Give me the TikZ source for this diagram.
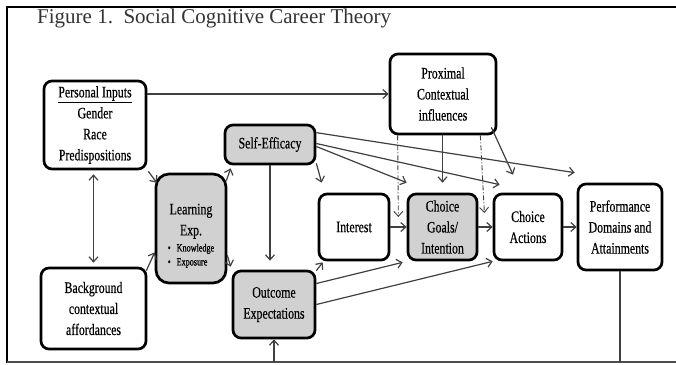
\documentclass[tikz,border=0pt]{standalone}
\usepackage{fontspec}
\setmainfont{Liberation Serif}
\newfontfamily\boxfont[FakeStretch=0.74,FakeBold=0.4]{Liberation Serif}
\newfontfamily\bulfont[FakeStretch=0.74,FakeBold=0.9]{Liberation Serif}
\usetikzlibrary{arrows.meta,calc}
\begin{document}
\begin{tikzpicture}[x=1pt,y=-1pt,
  box/.style={draw=black, line width=2.7pt, rounded corners=8pt, align=center, inner sep=0pt,
    font=\boxfont\fontsize{16}{21}\selectfont, text=black},
  gbox/.style={box, fill=black!18},
  arr/.style={draw=black!75, line width=1.2pt, -{Straight Barb[length=5pt,width=9pt]}},
  arrtwo/.style={draw=black!75, line width=1.2pt, {Straight Barb[length=5pt,width=9pt]}-{Straight Barb[length=5pt,width=9pt]}},
  dd/.style={arr, line width=0.9pt, dash pattern=on 5pt off 2pt on 1pt off 2pt},
  plain/.style={draw=black!75, line width=1.2pt},
  frame/.style={draw=black, line width=2pt}]
\useasboundingbox (0,0) rectangle (676,364);
\fill[white] (0,0) rectangle (676,364);
% frame
\draw[frame] (676,7) -- (7,7) -- (7,363);
\draw[draw=black!70, line width=1.5pt] (7,362) -- (676,362);
% title
\node[anchor=base west, inner sep=0pt, font=\fontsize{21}{24}\selectfont, text=black!80] (title) at (37,23) {Figure 1.\ \ Social Cognitive Career Theory};
% boxes
\node[box, minimum width=102, minimum height=88] (PI) at (95,125)
  {\underline{Personal Inputs}\\Gender\\Race\\Predispositions};
\node[box, minimum width=105, minimum height=81] (BG) at (93.5,308.5)
  {Background\\contextual\\affordances};
\node[gbox, rounded corners=13pt, minimum width=70, minimum height=109] (LE) at (191,228.5)
  {\rule{0pt}{27pt}Learning\\Exp.\\[2pt]{\bulfont\fontsize{11}{14}\selectfont\begin{tabular}{@{}l@{}}\textbullet\hspace{6pt}Knowledge\\\textbullet\hspace{6pt}Exposure\end{tabular}}};
\node[gbox, minimum width=90, minimum height=39] (SE) at (270,144.5) {Self-Efficacy};
\node[gbox, minimum width=82, minimum height=67] (OE) at (274,304.5) {Outcome\\Expectations};
\node[box, minimum width=70, minimum height=66] (IN) at (354,227) {Interest};
\node[gbox, minimum width=69, minimum height=66] (CG) at (442.5,227) {Choice\\Goals/\\Intention};
\node[box, minimum width=68, minimum height=66] (CA) at (528,227) {Choice\\Actions};
\node[box, minimum width=84, minimum height=86] (PD) at (620,227) {Performance\\Domains and\\Attainments};
\node[box, minimum width=106, minimum height=80] (PC) at (443,94) {Proximal\\Contextual\\influences};
% free ends
\coordinate (bot1) at (274,362);
\coordinate (bot2) at (620,362);
\coordinate (dd1) at ($(IN.east)+(8,-10)$);
\coordinate (dd2) at ($(CG.east)+(6,-14)$);
% connectors
\draw[arr] (PI.east |- PC.west) -- (PC.west);
\draw[arrtwo, shorten <=4pt, shorten >=4pt] (PI.south -| BG.north) -- (BG.north);
\draw[arr] ($(PI.south east)+(1,1)$) -- ($(LE.north west)+(2,10)$);
\draw[arr] ($(BG.north east)+(-1,4)$) -- ($(LE.south west)+(0,-32)$);
\draw[arr] ($(LE.north east)+(-1,8)$) -- ($(SE.south west)+(7,3)$);
\draw[arr] ($(LE.south east)+(0,-29)$) -- ($(OE.north west)+(-1,-3)$);
\draw[arr, shorten >=9pt] (SE.south) -- (SE.south |- OE.north);
\draw[arr] ($(SE.south east)+(0,-2)$) -- ($(IN.north west)+(4,-10)$);
\draw[arr] ($(SE.east)+(0,2)$) -- ($(CG.north west)+(0,-10)$);
\draw[arr] ($(SE.east)+(0,-1)$) -- ($(CA.north west)+(7,-8)$);
\draw[arr] ($(SE.north east)+(0,9)$) -- ($(PD.north west)+(-2,-10)$);
\draw[arr, shorten >=10pt] (PC.south -| CG.north) -- (CG.north);
\draw[dd] ($(PC.south west)+(9,0)$) -- (dd1);
\draw[dd] ($(PC.south east)+(-17,0)$) -- (dd2);
\draw[arr] ($(PC.south east)+(-6,-8)$) -- ($(CA.north)+(-15,-18)$);
\draw[arr] (IN.east) -- (CG.west);
\draw[arr] (CG.east) -- (CA.west);
\draw[arr] (CA.east) -- (PD.west);
\draw[arr] ($(OE.north east)+(0,1)$) -- ($(IN.south west)+(5,1)$);
\draw[arr] ($(OE.east)+(0,-21)$) -- ($(CG.south west)+(-4,1)$);
\draw[arr] (OE.east) -- (CA.south west);
\draw[arr] (bot1) -- (OE.south);
\draw[plain] (PD.south) -- (bot2);
\end{tikzpicture}
\end{document}
